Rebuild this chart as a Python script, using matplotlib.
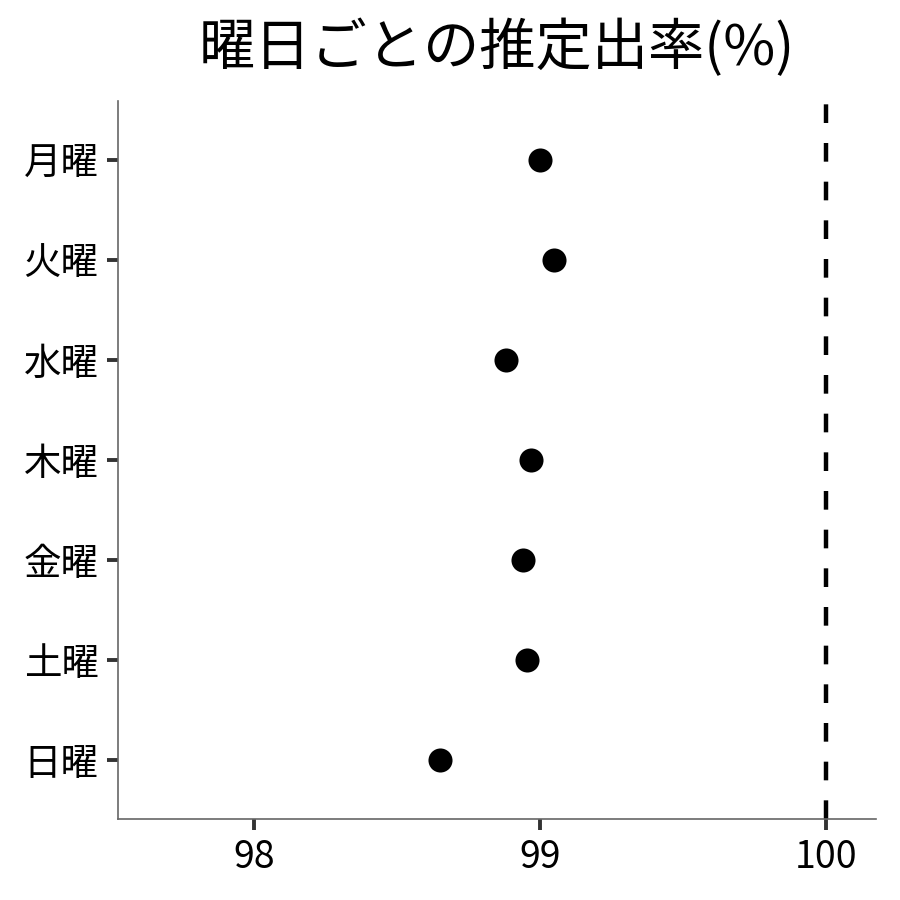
import matplotlib
matplotlib.use('Agg')
import matplotlib.pyplot as plt

plt.rcParams['font.family'] = ['Noto Sans CJK JP', 'DejaVu Sans']

# 曜日ごとの推定値
days = ['月曜', '火曜', '水曜', '木曜', '金曜', '土曜', '日曜']
rates = [99.00, 99.05, 98.88, 98.97, 98.94, 98.955, 98.65]
ref_line = 100
xticks = [98, 99, 100]

fig = plt.figure(figsize=(9, 9), dpi=100)
ax = fig.add_axes([118 / 900, 81 / 900, 758 / 900, 718 / 900])

ypos = list(range(len(days)))
ax.scatter(rates, ypos, s=300, color='black', zorder=3, linewidths=0)
ax.axvline(ref_line, color='black', linestyle=(0, (4.2, 4.5)), linewidth=3.2)

ax.set_yticks(ypos)
ax.set_yticklabels(days)
ax.set_xticks(xticks)
ax.set_xticklabels([str(v) for v in xticks])
ax.set_xlim(97.524, 100.175)
ax.set_ylim(len(days) - 1 + 0.59, -0.59)

for side in ['top', 'right']:
    ax.spines[side].set_visible(False)
for side in ['left', 'bottom']:
    ax.spines[side].set_color('#666666')
    ax.spines[side].set_linewidth(1.2)
ax.tick_params(axis='both', length=8, width=2.8, color='#333333',
               labelsize=27, labelcolor='black', pad=6)

ax.set_title('曜日ごとの推定出率(%)', fontsize=40.5, pad=26)

fig.savefig('out.png', dpi=100)
